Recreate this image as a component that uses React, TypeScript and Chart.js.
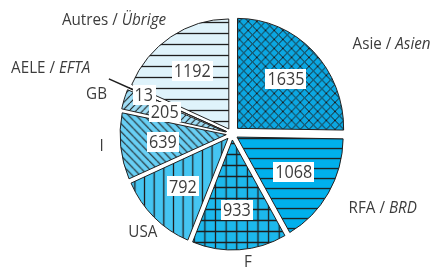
import { useEffect, useRef } from "react";
import { Chart, registerables } from "chart.js";

Chart.register(...registerables);

// ---- data ----
const categories = ["Asie / Asien", "RFA / BRD", "F", "USA", "I", "GB", "AELE / EFTA", "Autres / Übrige"];
const values = [1635, 1068, 933, 792, 639, 205, 13, 1192];

// ---- style ----
const bgColors = ["#0ba7e2", "#00b0ec", "#1cb8ec", "#45c5f1", "#68cff4", "#a0def6", "#c8edfa", "#dff3fb"];
const patternKinds = ["cross", "h", "grid", "v", "diagDown", "diagUp", "none", "h"];
const patternSizes = [9, 10, 11, 10, 8, 7, 8, 11];
const offsets = [32, 24, 24, 24, 24, 28, 24, 24];
const valueRadius = [0.64, 0.62, 0.64, 0.61, 0.6, 0.6, 0.85, 0.63];
const outerAngle = [60.7, 116.2, 172.9, 222.1, 264.4, 286.1, 290, 314];
const outerDist = [183, 168, 129, 133, 131, 141, 193, 164];
const leader: (number[] | null)[] = [null, null, null, null, null, null, [109, 139], null];

const PIE_RADIUS = 110;
const SQUEEZE_X = 0.965;
const LABEL_SX = 0.95;
const VALUE_SX = 0.9;
const FONT = "'Open Sans', 'DejaVu Sans', sans-serif";
const TEXT = "#3c3c3c";
const LINE = "#1e1e1e";

function makePattern(bg: string, kind: string, s: number): CanvasPattern | string {
  if (kind === "none") return bg;
  const c = document.createElement("canvas");
  c.width = s;
  c.height = s;
  const g = c.getContext("2d")!;
  g.fillStyle = bg;
  g.fillRect(0, 0, s, s);
  g.strokeStyle = LINE;
  g.lineWidth = kind === "cross" ? 1.0 : kind.startsWith("diag") ? 1.1 : 1.3;
  g.beginPath();
  const m = Math.floor(s / 2) + 0.5;
  if (kind === "h" || kind === "grid") {
    g.moveTo(0, m);
    g.lineTo(s, m);
  }
  if (kind === "v" || kind === "grid") {
    g.moveTo(m, 0);
    g.lineTo(m, s);
  }
  if (kind === "diagDown" || kind === "cross") {
    for (const k of [-s, 0, s]) {
      g.moveTo(k, 0);
      g.lineTo(k + s, s);
    }
  }
  if (kind === "diagUp" || kind === "cross") {
    for (const k of [-s, 0, s]) {
      g.moveTo(k, s);
      g.lineTo(k + s, 0);
    }
  }
  g.stroke();
  const ctx = document.createElement("canvas").getContext("2d")!;
  return ctx.createPattern(c, "repeat")!;
}

function splitLabel(label: string): [string, boolean][] {
  const parts = label.split(" / ");
  if (parts.length === 1) return [[label, false]];
  return [[parts[0] + " / ", false], [parts[1], true]];
}

function drawCondensed(ctx: CanvasRenderingContext2D, s: string, x: number, y: number, k: number) {
  ctx.save();
  ctx.translate(x, y);
  ctx.scale(k, 1);
  ctx.fillText(s, 0, 0);
  ctx.restore();
}

const piePlugin = {
  id: "pieLook",
  beforeDatasetsDraw(chart: any) {
    const ctx: CanvasRenderingContext2D = chart.ctx;
    const meta = chart.getDatasetMeta(0);
    meta.data.forEach((arc: any, i: number) => {
      const circ = arc.endAngle - arc.startAngle;
      const fix = 1 - Math.sin(Math.min(Math.PI, circ));
      arc.outerRadius = PIE_RADIUS - (offsets[i] / 4) * fix;
    });
    const cx = meta.data[0].x;
    ctx.save();
    ctx.translate(cx, 0);
    ctx.scale(SQUEEZE_X, 1);
    ctx.translate(-cx, 0);
  },
  afterDatasetsDraw(chart: any) {
    const ctx: CanvasRenderingContext2D = chart.ctx;
    ctx.restore();
    const meta = chart.getDatasetMeta(0);
    ctx.save();
    meta.data.forEach((arc: any, i: number) => {
      const p = arc.getProps(["x", "y", "startAngle", "endAngle"], true);
      const sx = (x: number) => p.x + (x - p.x) * SQUEEZE_X;
      const mid = (p.startAngle + p.endAngle) / 2;
      const t = offsets[i] / 4;
      const cx = p.x + Math.cos(mid) * t;
      const cy = p.y + Math.sin(mid) * t;
      const r = PIE_RADIUS * valueRadius[i];
      const lx = sx(cx + Math.cos(mid) * r);
      const ly = cy + Math.sin(mid) * r;

      const ld = leader[i];
      if (ld) {
        ctx.strokeStyle = LINE;
        ctx.lineWidth = 1.5;
        ctx.beginPath();
        ctx.moveTo(sx(p.x + Math.cos(mid) * ld[0]), p.y + Math.sin(mid) * ld[0]);
        ctx.lineTo(sx(p.x + Math.cos(mid) * ld[1]), p.y + Math.sin(mid) * ld[1]);
        ctx.stroke();
      }

      ctx.font = `18px ${FONT}`;
      ctx.textAlign = "left";
      ctx.textBaseline = "middle";
      const txt = String(values[i]);
      const w = ctx.measureText(txt).width * VALUE_SX;
      ctx.fillStyle = "#ffffff";
      ctx.fillRect(Math.round(lx - w / 2 - 2), Math.round(ly - 10), Math.round(w + 4), 20);
      ctx.fillStyle = TEXT;
      drawCondensed(ctx, txt, lx - w / 2, ly + 1, VALUE_SX);

      const a = ((outerAngle[i] - 90) * Math.PI) / 180;
      const ox = p.x + Math.cos(a) * outerDist[i];
      const oy = p.y + Math.sin(a) * outerDist[i];
      const segs = splitLabel(categories[i]);
      let total = 0;
      const widths = segs.map(([s, it]) => {
        ctx.font = `${it ? "italic " : ""}16px ${FONT}`;
        const ww = ctx.measureText(s).width * LABEL_SX;
        total += ww;
        return ww;
      });
      let x = ox - total / 2;
      segs.forEach(([s, it], k) => {
        ctx.font = `${it ? "italic " : ""}16px ${FONT}`;
        ctx.fillStyle = TEXT;
        drawCondensed(ctx, s, x, oy, LABEL_SX);
        x += widths[k];
      });
    });
    ctx.restore();
  },
};

export default function App() {
  const ref = useRef<HTMLCanvasElement>(null);
  useEffect(() => {
    if (!ref.current) return;
    const fills = bgColors.map((c, i) => makePattern(c, patternKinds[i], patternSizes[i]));
    const chart = new Chart(ref.current, {
      type: "pie",
      data: {
        labels: categories,
        datasets: [
          {
            data: values,
            backgroundColor: fills as any,
            borderColor: LINE,
            borderWidth: 1,
            offset: offsets,
            radius: PIE_RADIUS,
          } as any,
        ],
      },
      options: {
        animation: false,
        responsive: false,
        events: [],
        layout: { padding: { left: 34, right: 0, top: 0, bottom: 1 } },
        plugins: { legend: { display: false }, tooltip: { enabled: false } },
      },
      plugins: [piePlugin],
    });
    return () => chart.destroy();
  }, []);
  return (
    <div style={{ position: "absolute", left: 0, top: 0, width: 430, height: 269, background: "#fff" }}>
      <canvas ref={ref} width={430} height={269} style={{ width: 430, height: 269 }} />
    </div>
  );
}
